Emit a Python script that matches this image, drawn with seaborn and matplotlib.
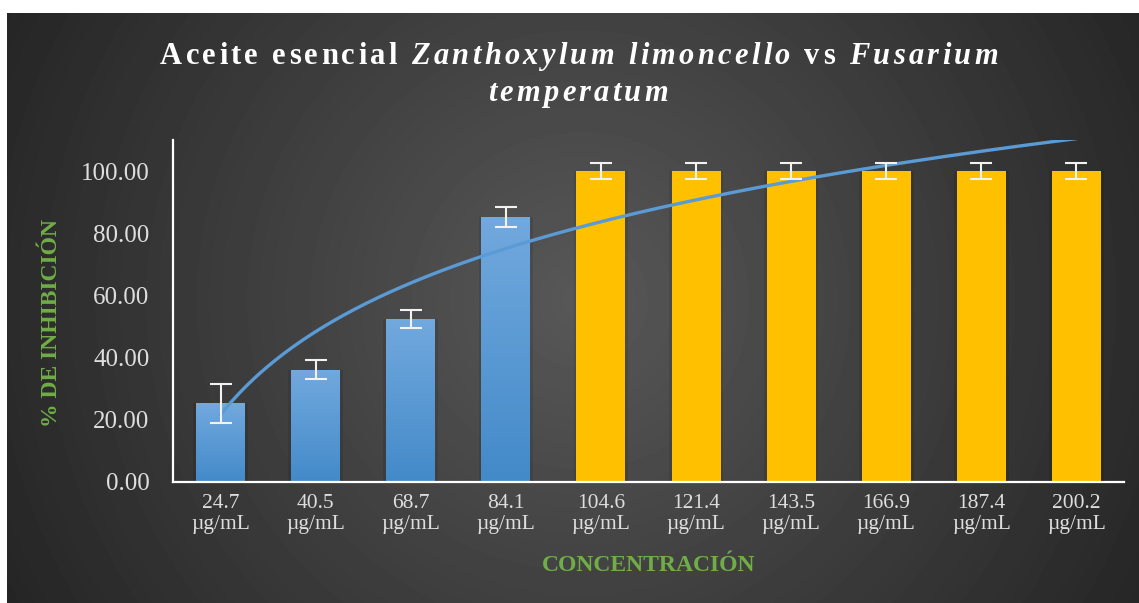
import numpy as np
import pandas as pd
import seaborn as sns
import matplotlib.pyplot as plt
from matplotlib.colors import LinearSegmentedColormap

# ---- data ----
concentrations = ["24.7", "40.5", "68.7", "84.1", "104.6",
                  "121.4", "143.5", "166.9", "187.4", "200.2"]
inhibition = [25.3, 36.1, 52.3, 85.2, 100.0, 100.0, 100.0, 100.0, 100.0, 100.0]
inhibition_err = [6.3, 3.0, 2.9, 3.2, 2.5, 2.5, 2.5, 2.5, 2.5, 2.7]
unit = "µg/mL"
y_ticks = [0, 20, 40, 60, 80, 100]

title_line1 = [("Aceite esencial ", "normal"),
               ("Zanthoxylum limoncello", "italic"),
               (" vs ", "normal"),
               ("Fusarium", "italic")]
title_line2 = [("temperatum", "italic")]

BLUE_TOP, BLUE_BOTTOM = "#72A9DE", "#438AC9"
YELLOW = "#FFC000"
GREEN = "#70AD47"
TICK_GREY = "#DEDEDE"
TREND_BLUE = "#5B9BD5"
n_blue = 4

W, H, DPI = 1139, 603, 100
SERIF = ["Liberation Serif", "DejaVu Serif"]

sns.set_theme(style="white")
plt.rcParams["font.family"] = SERIF

fig = plt.figure(figsize=(W / DPI, H / DPI), dpi=DPI, facecolor="white")

# ---- dark radial-gradient chart panel ----
px0, py0 = 7, 13
bg = fig.add_axes([px0 / W, 0, 1 - px0 / W, 1 - py0 / H], zorder=-10)
ny, nx = H - py0, W - px0
yy, xx = np.mgrid[0:ny, 0:nx]
cx, cy = 580 - px0, 300 - py0
rmax = np.hypot(max(cx, nx - cx), max(cy, ny - cy))
r = np.clip(np.hypot(xx - cx, yy - cy) / rmax, 0, 1)
shade = 0.345 - (0.345 - 0.145) * r
bg.imshow(shade, cmap="gray", vmin=0, vmax=1, aspect="auto",
          interpolation="bilinear")
bg.axis("off")

# ---- main axes ----
ax = fig.add_axes([173 / W, 1 - 482 / H, 951 / W, 342 / H])
ax.set_facecolor("none")

df = pd.DataFrame({"conc": [f"{c}\n{unit}" for c in concentrations],
                   "inhib": inhibition,
                   "err": inhibition_err})
palette = [BLUE_BOTTOM] * n_blue + [YELLOW] * (len(df) - n_blue)

# soft shadow behind each bar
sns.barplot(data=df, x="conc", y="inhib", color="black", alpha=0.09,
            width=0.575, errorbar=None, ax=ax, zorder=1)
n_shadow = len(ax.patches)
sns.barplot(data=df, x="conc", y="inhib", hue="conc", palette=palette,
            legend=False, width=0.515, errorbar=None, ax=ax,
            saturation=1, zorder=2)
bars = ax.patches[n_shadow:]
for b in ax.patches:
    b.set_edgecolor("none")

# vertical gradient fill on the blue bars
blue_cmap = LinearSegmentedColormap.from_list("bluegrad", [BLUE_BOTTOM, BLUE_TOP])
grad = np.linspace(0, 1, 256).reshape(-1, 1)
for b in bars[:n_blue]:
    x0, y0 = b.get_x(), b.get_y()
    w, h = b.get_width(), b.get_height()
    im = ax.imshow(grad, cmap=blue_cmap, origin="lower", aspect="auto",
                   extent=[x0, x0 + w, y0, y0 + h], zorder=2.5)
    im.set_clip_path(b)

positions = np.arange(len(df))

# error bars
ax.errorbar(positions, df["inhib"], yerr=df["err"], fmt="none",
            ecolor="#F2F2F2", elinewidth=1.5, capsize=8, capthick=1.5,
            zorder=6)

# logarithmic trend line fitted to the bar values
xi = positions + 1
coef = np.polyfit(np.log(xi), df["inhib"], 1)
xs = np.linspace(1, len(df), 300)
trend = pd.DataFrame({"x": xs - 1, "y": coef[0] * np.log(xs) + coef[1]})
sns.lineplot(data=trend, x="x", y="y", color=TREND_BLUE, lw=2.4, ax=ax,
             zorder=5)

ax.set_xlim(-0.5, len(df) - 0.5)
ax.set_ylim(0, 110)
ax.set_yticks(y_ticks)
ax.set_yticklabels([f"{v:.2f}" for v in y_ticks])

for side in ["top", "right"]:
    ax.spines[side].set_visible(False)
for side in ["left", "bottom"]:
    ax.spines[side].set_color("white")
    ax.spines[side].set_linewidth(1.6)

ax.tick_params(axis="y", length=0, pad=17, labelsize=18, labelcolor=TICK_GREY)
ax.tick_params(axis="x", length=0, pad=9, labelsize=15.5, labelcolor=TICK_GREY)
for lbl in ax.get_xticklabels():
    lbl.set_linespacing(1.1)

ax.set_xlabel("CONCENTRACIÓN", fontsize=17, fontweight="bold", color=GREEN,
              va="center")
ax.xaxis.set_label_coords(0.5, -0.245)
ax.set_ylabel("% DE INHIBICIÓN", fontsize=17, fontweight="bold", color=GREEN,
              va="center")
ax.yaxis.set_label_coords(-0.128, 0.465)

# ---- letter-spaced title ----
renderer = fig.canvas.get_renderer()
TITLE_SIZE = 22
TRACKING = 3.3


def text_width(s, style):
    t = fig.text(0, 0, s, fontsize=TITLE_SIZE, fontweight="bold",
                 style=style, family=SERIF)
    wdt = t.get_window_extent(renderer).width
    t.remove()
    return wdt


ref_w = {st: text_width("xx", st) for st in ("normal", "italic")}


def advance(ch, style):
    return text_width("x" + ch + "x", style) - ref_w[style]


def draw_spaced(segments, baseline_px, center_px):
    chars = [(ch, st) for seg, st in segments for ch in seg]
    advs = [advance(ch, st) for ch, st in chars]
    total = sum(advs) + TRACKING * (len(chars) - 1)
    x = center_px - total / 2
    for (ch, st), a in zip(chars, advs):
        if ch != " ":
            fig.text(x / W, 1 - baseline_px / H, ch, fontsize=TITLE_SIZE,
                     fontweight="bold", style=st, color="white",
                     family=SERIF, ha="left", va="baseline")
        x += a + TRACKING


draw_spaced(title_line1, 64, 579)
draw_spaced(title_line2, 101, 578)

fig.savefig("out.png", dpi=DPI, facecolor="white")
